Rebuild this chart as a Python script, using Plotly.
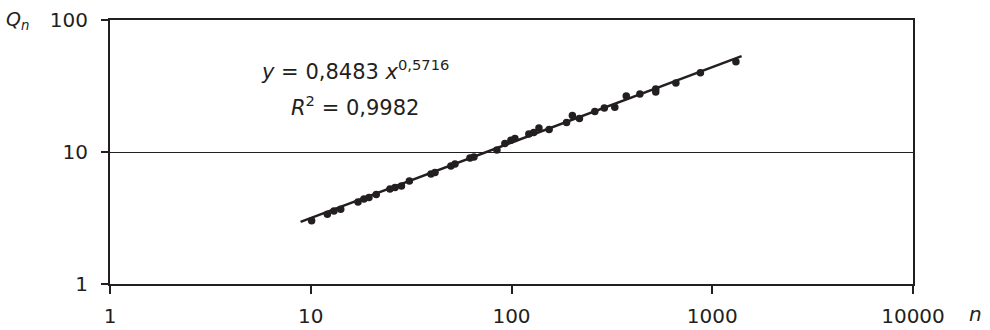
import plotly.graph_objects as go

# Data (n, Q_n)
n_vals = [10.1, 12.1, 13.05, 14.1, 17.2, 18.4, 19.5, 21.2, 24.8, 26.3, 28.3, 31.0,
          39.7, 41.6, 49.9, 52.3, 62.1, 65.0, 84.6, 92.7, 99.3, 104, 122, 129, 137,
          154, 188, 201, 218, 260, 290, 327, 373, 436, 523, 523, 659, 873, 1312]
q_vals = [3.02, 3.37, 3.57, 3.68, 4.18, 4.40, 4.52, 4.76, 5.25, 5.38, 5.53, 6.03,
          6.81, 7.00, 7.83, 8.11, 9.01, 9.17, 10.35, 11.6, 12.3, 12.65, 13.7, 14.05, 15.2,
          14.8, 16.7, 18.9, 17.9, 20.3, 21.5, 21.8, 26.6, 27.5, 28.5, 30.0, 33.3, 39.9, 48.3]

# Power trendline y = a * x^b as printed on the chart
fit_a = 0.8483
fit_b = 0.5716
fit_r2 = "0,9982"
fit_range = [8.9, 1400]

x_ticks = [1, 10, 100, 1000, 10000]
x_ticktext = ["1", "10", "100", "1000", "10000"]
y_ticks = [1, 10, 100]
y_ticktext = ["1", "10", "100"]

INK = "#231f20"
FONT = "DejaVu Sans"

fit_y = [fit_a * x ** fit_b for x in fit_range]

fig = go.Figure()
fig.add_trace(go.Scatter(x=fit_range, y=fit_y, mode="lines",
                         line=dict(color=INK, width=2.4), hoverinfo="skip"))
fig.add_trace(go.Scatter(x=n_vals, y=q_vals, mode="markers",
                         marker=dict(color=INK, size=7.5, line=dict(width=0))))

fig.update_layout(
    width=990, height=330,
    margin=dict(l=110, r=77, t=20, b=46),
    paper_bgcolor="white", plot_bgcolor="white",
    showlegend=False,
    font=dict(family=FONT, size=20, color=INK),
)
fig.update_xaxes(type="log", range=[0, 4], tickvals=x_ticks, ticktext=x_ticktext,
                 showgrid=False, zeroline=False, showline=True, linecolor=INK, linewidth=2,
                 mirror=True, ticks="outside", ticklen=8, tickwidth=2, tickcolor=INK,
                 ticklabelstandoff=5, automargin=False)
fig.update_yaxes(type="log", range=[0, 2], tickvals=y_ticks, ticktext=y_ticktext,
                 showgrid=True, gridcolor=INK, gridwidth=1, zeroline=False,
                 showline=True, linecolor=INK, linewidth=2,
                 mirror=True, ticks="outside", ticklen=7, tickwidth=2, tickcolor=INK,
                 ticklabelstandoff=9, automargin=False)

fig.add_annotation(xref="paper", yref="paper", x=0.305, y=0.809, xanchor="center", yanchor="middle",
                   text="<i>y</i> = 0,8483 <i>x</i><sup>0,5716</sup>", showarrow=False,
                   font=dict(size=21, family=FONT, color=INK))
fig.add_annotation(xref="paper", yref="paper", x=0.305, y=0.674, xanchor="center", yanchor="middle",
                   text="<i>R</i><sup>2</sup> = " + fit_r2, showarrow=False,
                   font=dict(size=21, family=FONT, color=INK))
fig.add_annotation(xref="paper", yref="paper", x=-0.132, y=1.0, xanchor="left", yanchor="middle",
                   text="<i>Q<sub>n</sub></i>", showarrow=False,
                   font=dict(size=19, family=FONT, color=INK))
fig.add_annotation(xref="paper", yref="paper", x=1.078, y=-0.165, xanchor="center", yanchor="bottom",
                   text="<i>n</i>", showarrow=False,
                   font=dict(size=20, family=FONT, color=INK))

fig.write_html("out.html", config={"displayModeBar": False},
               post_script="document.body.style.margin='0';")
